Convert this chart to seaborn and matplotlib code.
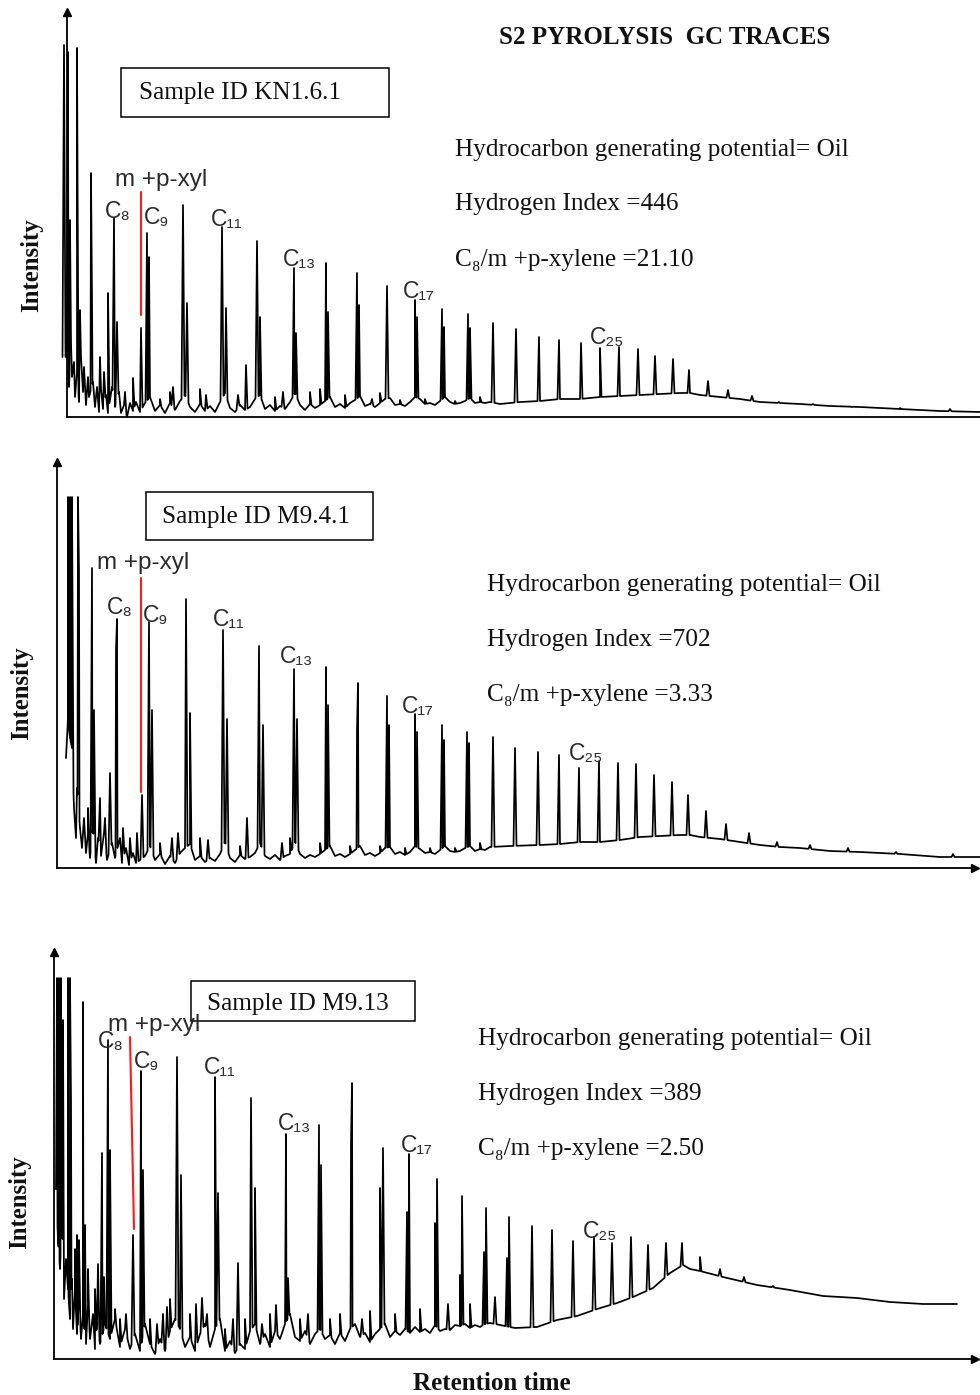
import numpy as np
import pandas as pd
import seaborn as sns
import matplotlib.pyplot as plt
from matplotlib.patches import Rectangle

# ---------------- data (retention position, intensity) ----------------
# panel 1 : KN1.6.1
p1_base_x = ([67, 69, 71, 72, 74, 75, 77, 79, 81, 83, 84, 86, 88, 89, 93, 95, 97, 99, 101, 103, 106, 108, 112,
              115, 119, 121, 124, 127, 130, 133, 136]
             + list(range(140, 495, 5))
             + [500, 520, 540, 560, 580, 600, 620, 640, 660, 680, 690, 700, 720, 740, 760, 780, 800, 830,
                860, 900, 940, 980])
p1_base_y = ([60, 30, 75, 40, 55, 20, 45, 15, 60, 25, 50, 12, 40, 20, 35, 10, 30, 5, 28, 8, 22, 4, 30,
              10, 25, 4, 12, 0, 14, 6, 15]
             + [5, 14, 20, 6, 12, 4, 14, 7, 16, 22, 10, 5, 13, 6, 11, 5, 15, 24, 9, 5, 12, 7, 10, 18, 22, 8,
                12, 6, 11, 8, 15, 24, 12, 7, 13, 9, 12, 16, 20, 10, 13, 9, 14, 17, 21, 11, 13, 10, 14, 18,
                19, 12, 13, 11, 15, 20, 18, 13, 14, 12, 16, 20, 15, 13, 14, 16, 19, 14, 15, 14, 15]
             + [13, 15, 16, 18, 18, 20, 21, 22, 23, 24, 24, 22, 20, 18, 15, 14, 13, 11,
                10, 8, 6, 5])
p1_peak_x = [64, 68, 70, 77, 80, 91, 92, 108, 114, 117, 141, 147, 149, 183, 187, 222, 226, 246, 257, 260,
             294, 296, 326, 328, 357, 359, 387, 415, 417, 442, 444, 468, 470, 493, 516, 539, 559, 581, 600,
             619, 638, 655, 673, 689, 708, 728, 752, 779, 813, 852, 900, 950]
p1_peak_y = [372, 365, 197, 369, 107, 244, 120, 124, 199, 95, 89, 184, 160, 212, 114, 190, 109, 52, 176, 100,
             149, 84, 154, 105, 144, 112, 131, 117, 100, 108, 90, 103, 89, 94, 88, 80, 77, 74, 69,
             70, 68, 61, 58, 47, 36, 27, 21, 15, 13, 10, 9, 8]
p1_minor_x = [100, 104, 125, 133, 160, 170, 173, 200, 206, 238, 275, 283, 310, 320, 345, 372, 380, 400, 425,
              455, 480]
p1_minor_y = [60, 45, 25, 39, 18, 25, 30, 28, 22, 22, 20, 25, 25, 28, 22, 18, 24, 17, 18, 16, 20]
p1_xyl_x = [141, 141]
p1_xyl_y = [225, 102]

# panel 2 : M9.4.1
p2_base_x = ([66, 68, 70, 72, 74, 76, 77, 80, 82, 84, 86, 88, 90, 93, 96, 98, 101, 104, 107, 112, 115, 120,
              122, 126, 129, 133, 136]
             + list(range(140, 495, 5))
             + [510, 540, 560, 580, 600, 620, 640, 660, 680, 690, 700, 720, 740,
                760, 780, 800, 830, 860, 900, 940, 980])
p2_base_y = ([110, 150, 130, 120, 60, 30, 80, 40, 20, 50, 15, 35, 10, 40, 5, 30, 12, 35, 8, 25, 10, 30,
              5, 20, 3, 15, 5]
             + [8, 12, 22, 8, 14, 4, 12, 5, 15, 20, 24, 8, 12, 6, 10, 7, 14, 26, 10, 6, 13, 9, 11, 15, 25,
                12, 9, 13, 8, 12, 14, 26, 14, 10, 13, 11, 14, 18, 22, 12, 14, 11, 14, 18, 22, 13, 15, 12,
                15, 20, 21, 14, 16, 13, 16, 22, 19, 15, 16, 14, 18, 22, 17, 16, 17, 20, 22, 17, 19, 18, 21]
             + [22, 23, 24, 26, 26, 28, 31, 32, 33, 33, 31, 29, 26,
                23, 21, 20, 17, 16, 14, 11, 11])
p2_peak_x = [68, 70, 72, 78, 79, 92, 94, 110, 116, 117, 142, 149, 152, 186, 190, 223, 227, 247, 259, 263,
             294, 297, 326, 328, 357, 358, 387, 389, 415, 417, 442, 444, 467, 469, 493, 515, 538, 559, 579,
             599, 618, 636, 654, 672, 688, 706, 726, 749, 777, 810, 848, 896, 953]
p2_peak_y = [371, 371, 371, 371, 298, 300, 158, 95, 218, 249, 73, 246, 158, 269, 155, 238, 149, 50, 222, 143,
             199, 149, 201, 163, 138, 185, 172, 143, 154, 136, 143, 128, 136, 125, 131, 120, 116, 113, 100,
             107, 105, 104, 93, 86, 73, 57, 44, 35, 26, 23, 20, 16, 14]
p2_minor_x = [88, 100, 105, 123, 130, 137, 160, 172, 178, 200, 208, 240, 282, 290, 320, 350, 380, 405, 430,
              455, 480]
p2_minor_y = [60, 70, 50, 40, 30, 35, 25, 30, 35, 30, 28, 22, 25, 30, 25, 22, 22, 20, 20, 20, 25]
p2_xyl_x = [141, 141]
p2_xyl_y = [290, 76]

# panel 3 : M9.13
p3_base_x = ([56, 58, 60, 62, 64, 66, 68, 70, 72, 73, 75, 77, 79, 81, 83, 86, 88, 90, 93, 95, 97]
             + list(range(100, 495, 5))
             + [515, 537, 557, 577, 597, 617, 633, 653, 670, 683, 690, 700, 723, 757, 790, 823, 857,
                890, 923, 957])
p3_base_y = ([170, 120, 90, 140, 60, 100, 70, 40, 80, 30, 70, 25, 60, 20, 45, 15, 55, 20, 45, 10, 35]
             + [15, 35, 20, 40, 12, 30, 10, 25, 8, 35, 15, 5, 20, 8, 28, 40, 30, 12, 22, 8, 25, 35, 12, 30,
                40, 8, 18, 6, 15, 10, 28, 35, 15, 25, 12, 28, 20, 35, 45, 22, 18, 28, 15, 25, 30, 20, 24,
                15, 26, 18, 30, 35, 22, 26, 17, 25, 30, 35, 22, 28, 24, 30, 26, 32, 27, 30, 26, 34, 28, 30,
                29, 34, 33, 35, 31, 34, 32, 35, 36]
             + [31, 32, 39, 43, 50, 56, 62, 71, 86, 94, 90, 88, 82, 74, 69, 63, 61,
                57, 55, 55])
p3_peak_x = [57, 59, 61, 63, 68, 70, 71, 77, 79, 83, 85, 102, 104, 108, 110, 133, 141, 143, 167, 177, 181,
             202, 215, 218, 238, 251, 255, 276, 286, 288, 319, 321, 351, 352, 380, 383, 407, 409, 435, 437,
             460, 462, 484, 486, 507, 509, 532, 552, 573, 594, 612, 631, 648, 666, 682, 700, 720, 744, 773]
p3_peak_y = [381, 381, 381, 339, 381, 381, 259, 124, 119, 357, 134, 206, 82, 319, 209, 124, 288, 189, 52, 302,
             184, 61, 282, 166, 96, 261, 171, 54, 225, 81, 234, 194, 217, 276, 171, 211, 147, 205, 136, 180,
             84, 163, 107, 151, 101, 142, 133, 129, 118, 122, 116, 122, 114, 116, 116, 102, 90, 82, 73]
p3_minor_x = [75, 88, 95, 98, 115, 120, 126, 150, 157, 163, 170, 190, 196, 207, 225, 233, 245, 262, 270, 300,
              308, 330, 340, 362, 370, 395, 420, 448, 470, 495]
p3_minor_y = [110, 90, 70, 95, 50, 40, 45, 40, 35, 45, 60, 45, 55, 45, 30, 40, 40, 35, 45, 40,
              45, 40, 45, 40, 48, 45, 50, 55, 55, 62]
p3_xyl_x = [130, 134]
p3_xyl_y = [322, 130]

sample_ids = ["Sample ID KN1.6.1", "Sample ID M9.4.1", "Sample ID M9.13"]
hydrogen_index = [446, 702, 389]
c8_xylene = ["21.10", "3.33", "2.50"]
peak_names = ["C\u2088", "C\u2089", "C\u2081\u2081", "C\u2081\u2083", "C\u2081\u2087", "C\u2082\u2085"]

W, H = 980, 1395


def build_trace(bx, by, px, py, hw=1.5):
    xs, ys = list(bx), list(by)
    for x, top in zip(px, py):
        xs += [x - hw, x, x + hw]
        ys += [np.interp(x - hw, bx, by), top, np.interp(x + hw, bx, by)]
    order = np.argsort(xs, kind="stable")
    return pd.DataFrame({"time": np.array(xs)[order], "intensity": np.array(ys)[order]})


def fx(x):
    return x / W


def fy(y):
    return 1 - y / H


sns.set_theme(style="white")
plt.rcParams["font.family"] = ["Liberation Serif", "DejaVu Serif"]

fig = plt.figure(figsize=(9.8, 13.95), dpi=100)

# panel layout in pixels: left, right, axis line y, top of arrow
panels = [
    dict(left=67, right=980, base=417, top=12, arrow=False,
         bx=p1_base_x, by=p1_base_y, px=p1_peak_x, py=p1_peak_y, mx=p1_minor_x, my=p1_minor_y,
         rx=p1_xyl_x, ry=p1_xyl_y),
    dict(left=57, right=975, base=868, top=462, arrow=True,
         bx=p2_base_x, by=p2_base_y, px=p2_peak_x, py=p2_peak_y, mx=p2_minor_x, my=p2_minor_y,
         rx=p2_xyl_x, ry=p2_xyl_y),
    dict(left=54, right=975, base=1359, top=952, arrow=True,
         bx=p3_base_x, by=p3_base_y, px=p3_peak_x, py=p3_peak_y, mx=p3_minor_x, my=p3_minor_y,
         rx=p3_xyl_x, ry=p3_xyl_y),
]

for p in panels:
    ax = fig.add_axes([fx(p["left"]), fy(p["base"]), (p["right"] - p["left"]) / W, (p["base"] - p["top"]) / H])
    ax.set_facecolor("none")
    ax.set_xlim(p["left"], p["right"])
    ax.set_ylim(0, p["base"] - p["top"])
    df = build_trace(p["bx"], p["by"], list(p["px"]) + list(p["mx"]), list(p["py"]) + list(p["my"]))
    sns.lineplot(data=df, x="time", y="intensity", ax=ax, sort=False, estimator=None,
                 color="black", linewidth=1.25)
    ax.lines[-1].set_clip_on(False)
    ax.plot(p["rx"], p["ry"], color="#ff1a1a", linewidth=1.5, clip_on=False)
    for s in ["top", "right"]:
        ax.spines[s].set_visible(False)
    for s in ["left", "bottom"]:
        ax.spines[s].set_color("black")
        ax.spines[s].set_linewidth(1.3)
    ax.set_xticks([])
    ax.set_yticks([])
    ax.set_xlabel("")
    ax.set_ylabel("")
    ax.plot(0, 1, marker="^", color="black", markersize=6, transform=ax.transAxes, clip_on=False)
    if p["arrow"]:
        ax.plot(1, 0, marker=">", color="black", markersize=6, transform=ax.transAxes, clip_on=False)

# title
fig.text(fx(665), fy(38), "S2 PYROLYSIS  GC TRACES", ha="center", va="center",
         fontsize=18, fontweight="bold", color="#111111")

# sample boxes, info text, axis labels
boxes = [(121, 68, 389, 117, 139, 93), (146, 492, 373, 540, 162, 517), (191, 981, 415, 1021, 207, 1004)]
info_pos = [(455, [150, 204, 260]), (487, [585, 640, 695]), (478, [1039, 1094, 1149])]
ylab_pos = [(32, 265), (22, 693), (20, 1202)]

for i in range(3):
    x0, y0, x1, y1, tx, ty = boxes[i]
    rect = Rectangle((fx(x0), fy(y1)), (x1 - x0) / W, (y1 - y0) / H, transform=fig.transFigure,
                     facecolor="white", edgecolor="black", linewidth=1.1)
    fig.patches.append(rect)
    fig.text(fx(tx), fy(ty), sample_ids[i], ha="left", va="center", fontsize=18.2, color="#111111")

    ix, iys = info_pos[i]
    lines = ["Hydrocarbon generating potential= Oil",
             "Hydrogen Index =%d" % hydrogen_index[i],
             "C\u2088/m +p-xylene =%s" % c8_xylene[i]]
    for txt, iy in zip(lines, iys):
        fig.text(fx(ix), fy(iy), txt, ha="left", va="center", fontsize=18.2, color="#111111")

    lx, ly = ylab_pos[i]
    fig.text(fx(lx), fy(ly), "Intensity", rotation=90, ha="center", va="center",
             fontsize=17.8, fontweight="bold", color="#111111")

fig.text(fx(492), fy(1383), "Retention time", ha="center", va="center",
         fontsize=18, fontweight="bold", color="#111111")

# peak labels (left x, centre y) per panel
label_pos = [
    [(105, 212), (144, 218), (211, 220), (283, 260), (403, 291), (590, 338)],
    [(107, 608), (143, 615), (213, 620), (280, 656), (402, 706), (569, 753)],
    [(98, 1042), (134, 1062), (204, 1068), (278, 1123), (401, 1146), (583, 1232)],
]
xyl_pos = [(115, 180), (97, 563), (108, 1025)]
sans = ["Liberation Sans", "DejaVu Sans"]
for i in range(3):
    for name, (lx, ly) in zip(peak_names, label_pos[i]):
        fig.text(fx(lx), fy(ly), name, ha="left", va="center", fontsize=16.5,
                 family=sans, color="#2a2a2a")
    fig.text(fx(xyl_pos[i][0]), fy(xyl_pos[i][1]), "m +p-xyl", ha="left", va="center",
             fontsize=17.5, family=sans, color="#2a2a2a")

fig.savefig("out.png", dpi=100, facecolor="white")
